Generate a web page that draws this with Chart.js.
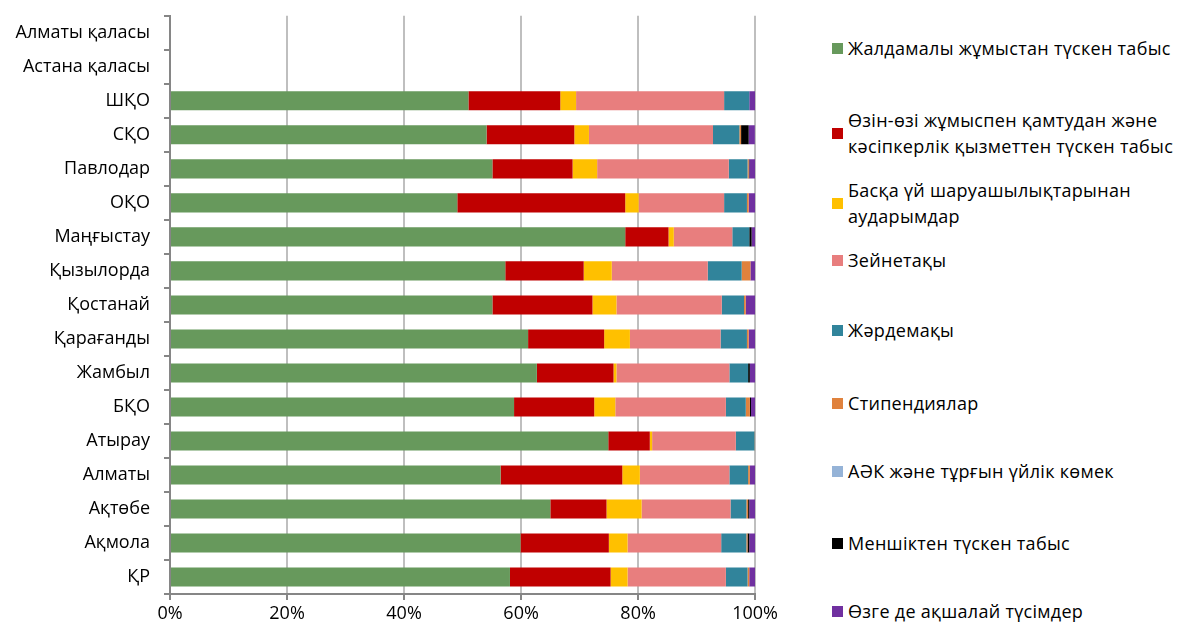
<!DOCTYPE html>
<html lang="kk">
<head>
    <meta charset="UTF-8">
    <title>Ақшалай табыс құрылымы</title>
    <style>
        body {
            margin: 0;
            background: #ffffff;
            font-family: "Open Sans", "Noto Sans", sans-serif;
        }
        .wrap {
            position: relative;
            width: 1177px;
            height: 632px;
            overflow: hidden;
        }
        .chart-box {
            position: absolute;
            left: 0;
            top: -9px;
            width: 781px;
            height: 641px;
        }
        .legend {
            position: absolute;
            left: 832px;
            top: 0;
            width: 345px;
            height: 632px;
            font-size: 18px;
            letter-spacing: 0.3px;
            color: #000;
        }
        .legend .item {
            position: absolute;
            left: 0;
            display: flex;
            align-items: center;
            transform: translateY(-50%);
            line-height: 26px;
            white-space: nowrap;
        }
        .legend .sw {
            width: 11px;
            height: 11px;
            margin-right: 5px;
            flex: none;
        }
    </style>
</head>
<body>
    <div class="wrap">
        <div class="chart-box"><canvas id="incomeChart"></canvas></div>
        <div class="legend" id="legend"></div>
    </div>

    <script src="https://cdn.jsdelivr.net/npm/chart.js"></script>
    <script>
        // categories top to bottom (the two cities have no data)
        const regions = ['Алматы қаласы', 'Астана қаласы', 'ШҚО', 'СҚО', 'Павлодар', 'ОҚО', 'Маңғыстау',
            'Қызылорда', 'Қостанай', 'Қарағанды', 'Жамбыл', 'БҚО', 'Атырау', 'Алматы', 'Ақтөбе', 'Ақмола', 'ҚР'];

        const seriesNames = [
            ['Жалдамалы жұмыстан түскен табыс'],
            ['Өзін-өзі жұмыспен қамтудан және', 'кәсіпкерлік қызметтен түскен табыс'],
            ['Басқа үй шаруашылықтарынан', 'аударымдар'],
            ['Зейнетақы'],
            ['Жәрдемақы'],
            ['Стипендиялар'],
            ['АӘК және тұрғын үйлік көмек'],
            ['Меншіктен түскен табыс'],
            ['Өзге де ақшалай түсімдер']
        ];
        const seriesColors = ['#67995C', '#C00000', '#FFC000', '#E87E7E', '#31849B', '#E0823D', '#95B3D7', '#000000', '#7030A0'];

        // shares, %, in the same order as regions
        const wages = [null, null, 51.0, 54.1, 55.1, 49.1, 77.8, 57.3, 55.1, 61.2, 62.7, 58.8, 74.9, 56.5, 65.0, 59.9, 58.1];
        const selfEmployed = [null, null, 15.7, 15.0, 13.7, 28.7, 7.4, 13.4, 17.1, 13.0, 13.1, 13.7, 7.1, 20.8, 9.6, 15.1, 17.2];
        const transfers = [null, null, 2.7, 2.5, 4.2, 2.3, 0.9, 4.8, 4.1, 4.4, 0.5, 3.6, 0.4, 3.0, 6.0, 3.2, 2.9];
        const pensions = [null, null, 25.3, 21.2, 22.5, 14.6, 10.0, 16.4, 18.0, 15.5, 19.3, 18.9, 14.3, 15.3, 15.2, 16.0, 16.8];
        const benefits = [null, null, 4.3, 4.5, 3.2, 3.9, 2.9, 5.8, 3.8, 4.5, 3.2, 3.4, 3.2, 3.2, 2.7, 4.3, 3.7];
        const stipends = [null, null, 0.0, 0.3, 0.2, 0.3, 0.0, 1.5, 0.3, 0.3, 0.0, 0.7, 0.1, 0.3, 0.3, 0.2, 0.3];
        const housingAid = [null, null, 0.0, 0.0, 0.0, 0.0, 0.0, 0.0, 0.0, 0.0, 0.0, 0.0, 0.0, 0.0, 0.0, 0.0, 0.0];
        const property = [null, null, 0.0, 1.3, 0.1, 0.0, 0.4, 0.0, 0.0, 0.0, 0.3, 0.2, 0.0, 0.0, 0.2, 0.3, 0.0];
        const other = [null, null, 1.0, 1.05, 1.0, 1.1, 0.6, 0.8, 1.6, 1.1, 0.9, 0.7, 0.0, 0.9, 1.0, 1.0, 1.0];

        const allSeries = [wages, selfEmployed, transfers, pensions, benefits, stipends, housingAid, property, other];
        const xTicks = ['0%', '20%', '40%', '60%', '80%', '100%'];

        const fontFamily = '"Open Sans", "Noto Sans", sans-serif';

        const datasets = allSeries.map((vals, i) => ({
            label: seriesNames[i].join(' '),
            data: vals,
            backgroundColor: seriesColors[i],
            borderWidth: 0,
            barPercentage: 0.56,
            categoryPercentage: 1.0
        }));

        const ctx = document.getElementById('incomeChart').getContext('2d');
        new Chart(ctx, {
            type: 'bar',
            data: { labels: regions, datasets: datasets },
            options: {
                indexAxis: 'y',
                responsive: true,
                maintainAspectRatio: false,
                animation: false,
                layout: { padding: { top: 2, right: 0, left: 0, bottom: 0 } },
                plugins: {
                    legend: { display: false },
                    tooltip: { enabled: false }
                },
                scales: {
                    x: {
                        stacked: true,
                        min: 0,
                        max: 100,
                        afterFit: s => { s.height = 38; },
                        ticks: {
                            stepSize: 20,
                            color: '#000',
                            padding: 3,
                            font: { family: fontFamily, size: 18 },
                            callback: (v) => xTicks[v / 20]
                        },
                        grid: {
                            color: '#BFBFBF',
                            lineWidth: 2,
                            tickLength: 6,
                            tickColor: '#868686'
                        },
                        border: { color: '#868686', width: 2 }
                    },
                    y: {
                        stacked: true,
                        afterFit: s => { s.width = 170; },
                        ticks: {
                            color: '#000',
                            padding: 14,
                            font: { family: fontFamily, size: 18 }
                        },
                        grid: {
                            drawOnChartArea: false,
                            tickLength: 6,
                            tickColor: '#868686',
                            lineWidth: 2
                        },
                        border: { color: '#868686', width: 2 }
                    }
                }
            }
        });

        // legend drawn as HTML so long names can wrap like the original
        const legendY = [48, 133, 203, 260, 330, 403, 471, 543, 611];
        const legendBox = document.getElementById('legend');
        seriesNames.forEach((lines, i) => {
            const item = document.createElement('div');
            item.className = 'item';
            item.style.top = legendY[i] + 'px';
            item.innerHTML = '<span class="sw" style="background:' + seriesColors[i] + '"></span><span>' + lines.join('<br>') + '</span>';
            legendBox.appendChild(item);
        });
    </script>
</body>
</html>
